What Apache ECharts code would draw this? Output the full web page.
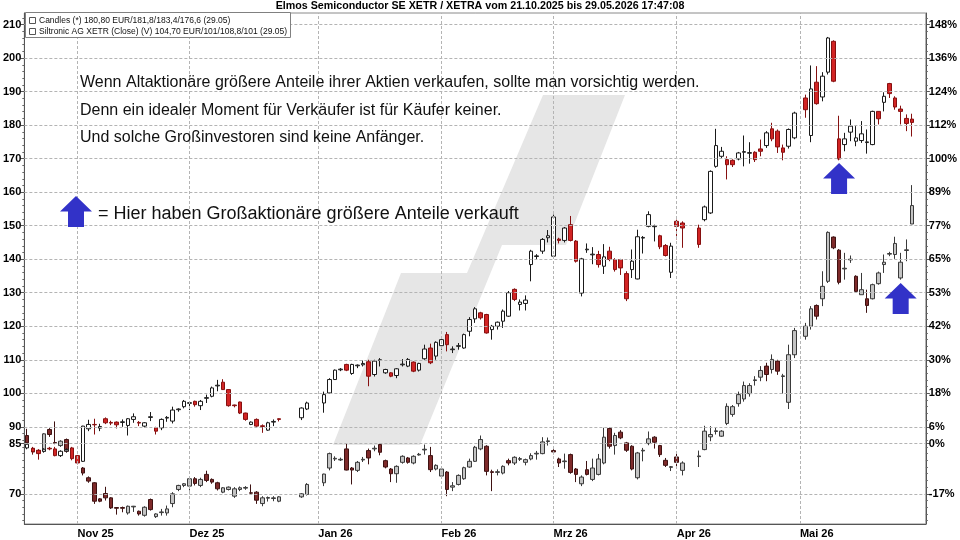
<!DOCTYPE html>
<html><head><meta charset="utf-8">
<script src="https://cdn.jsdelivr.net/npm/echarts@6/dist/echarts.min.js"></script>
<style>html,body{margin:0;padding:0;background:#fff}#c{width:960px;height:540px}</style>
</head><body><div id="c"></div>
<script>
// ---- categories: XETRA weekdays from 21.10.2025 (2 empty slots after 29.05.2026)
const startDate = [2025, 9, 21];
const categoryCount = 161;
const tradingDays = 159;
const monthNames = ['Jan','Feb','Mrz','Apr','Mai','Jun','Jul','Aug','Sep','Okt','Nov','Dez'];

// ---- left axis ticks and right (percent) labels
const leftTicks = [70,85,90,100,110,120,130,140,150,160,170,180,190,200,210];
const rightLabels = ['-17%','0%','6%','18%','30%','42%','53%','65%','77%','89%','100%','112%','124%','136%','148%'];

// ---- Elmos Semiconductor candles [open, close, low, high], null = no trading
const elmos = [
[83.7,84.8,83.3,85.2],[83.6,82.6,82.0,84.0],[83.0,82.0,80.2,83.3],[82.7,83.3,82.3,83.6],[83.6,83.4,83.0,84.0],
[83.4,81.4,81.2,84.0],[81.4,82.7,81.0,83.0],[82.8,83.2,82.4,83.6],[83.7,80.5,80.0,84.0],[81.4,79.2,78.8,81.6],
[79.7,90.2,79.5,90.3],[89.4,90.7,88.7,92.1],[90.7,90.6,87.7,92.4],[89.6,90.1,88.7,90.9],[92.4,91.2,90.8,92.8],
[91.3,91.1,90.5,91.8],[91.4,90.6,89.5,91.6],[91.3,91.5,90.0,92.2],[90.4,92.4,87.4,92.6],[92.2,93.0,91.2,94.0],
[91.3,91.1,90.2,91.7],[90.2,91.2,89.8,91.4],[92.8,93.0,91.7,94.4],[89.7,88.7,87.7,90.0],[89.7,92.2,89.0,92.5],
[92.6,92.8,91.5,93.2],[91.7,95.0,91.0,96.0],[95.1,95.3,94.5,95.5],[96.0,97.6,95.5,98.0],[97.0,97.2,95.0,97.6],
[97.6,96.6,96.0,97.8],[96.3,97.6,95.0,98.0],[98.5,98.7,97.1,99.6],[99.1,101.6,98.8,102.0],[102.2,102.4,100.6,104.0],
[103.3,101.1,101.0,104.2],[101.1,96.3,96.0,101.2],[96.5,96.3,95.8,96.6],[97.4,94.1,93.8,97.5],[94.1,92.2,91.8,94.2],
[90.7,91.4,90.5,91.6],[92.2,90.2,90.0,92.5],[90.3,90.1,88.2,90.7],[89.0,91.2,88.8,91.5],[91.4,91.6,90.2,92.2],
[92.4,92.2,91.6,92.5],null,null,null,[92.7,95.6,92.0,95.8],
[95.3,97.1,95.0,97.5],null,null,[97.1,99.6,94.2,100.5],[100.1,104.1,99.8,104.5],
[104.1,106.9,104.0,107.1],[107.0,107.2,106.6,107.5],[108.6,106.9,106.6,108.8],[105.9,108.6,105.5,108.8],[108.2,108.4,107.5,108.6],
[108.5,108.9,108.0,109.8],[109.4,105.1,102.1,110.0],[105.6,109.6,105.0,110.0],[109.8,110.0,108.0,110.5],[106.1,107.1,105.8,107.3],
[106.1,105.1,104.8,106.3],[105.3,107.3,104.5,107.5],[108.5,108.7,108.0,110.2],[108.1,110.1,107.8,110.5],[109.3,106.6,106.3,109.5],
[106.9,108.9,106.5,109.1],[110.3,113.2,110.0,114.5],[113.5,109.1,108.7,114.8],[111.1,115.2,110.0,115.5],[114.2,116.0,113.0,117.0],
[117.5,114.5,112.5,118.3],[113.0,113.2,112.0,114.0],[114.0,114.2,113.0,115.0],[113.5,117.5,113.3,117.8],[118.5,122.0,117.0,122.7],
[122.2,125.2,121.0,125.7],[124.0,122.5,122.0,124.3],[123.5,118.0,117.8,123.7],[119.0,120.0,116.0,120.4],[120.0,121.2,119.0,121.4],
[121.5,124.5,119.5,125.0],[123.0,130.0,122.8,130.5],[131.0,128.0,127.5,131.3],[126.5,127.2,124.7,128.0],[126.8,127.8,124.7,129.2],
[138.4,142.4,133.4,142.8],[140.8,141.0,140.0,141.5],[142.4,145.9,141.6,146.3],[146.4,147.0,145.0,148.7],[140.9,152.6,140.4,153.3],
[146.0,145.6,144.7,146.4],[145.6,149.3,145.0,149.6],[150.3,145.6,145.3,152.9],[145.4,139.4,139.0,145.7],[129.9,140.1,128.9,140.4],
[142.8,143.0,141.9,144.7],[141.3,141.5,138.5,143.6],[141.4,138.4,137.5,142.5],[137.9,140.7,135.6,144.5],[142.4,139.9,139.4,143.7],
[139.9,136.9,136.3,140.3],[139.9,137.4,135.3,140.1],[135.7,128.2,127.5,136.4],[136.9,139.4,134.4,142.9],[134.1,146.7,134.0,148.8],
[146.3,146.5,141.7,146.9],[149.8,153.3,149.5,154.3],[149.7,149.9,145.3,150.3],[147.0,143.7,143.0,147.3],[144.1,141.1,140.8,144.5],
[136.1,143.9,134.4,144.9],[151.3,149.8,145.9,151.8],[150.8,149.3,143.4,151.3],null,null,
[149.3,144.4,143.4,150.3],[151.8,155.6,151.3,156.0],[153.8,166.2,153.5,166.5],[167.7,173.9,167.3,178.9],[170.7,172.2,170.2,173.5],
[169.7,168.2,163.8,170.7],[169.5,168.2,167.5,169.8],[169.9,171.7,169.5,172.0],[171.9,172.1,167.7,176.9],[171.6,171.8,168.5,174.9],
[171.9,169.7,169.0,172.2],[172.9,172.2,170.7,175.7],[173.9,177.7,173.2,178.2],[178.9,175.9,175.2,180.7],[178.2,173.5,171.7,178.7],
[173.2,171.9,169.5,174.2],[173.7,178.7,173.0,179.0],[176.2,183.6,175.8,184.0],null,[188.1,184.6,182.2,189.1],
[176.9,190.8,174.9,197.8],[192.8,186.4,186.1,197.6],[188.4,194.6,187.1,195.8],[195.8,206.0,195.1,206.3],[205.0,193.1,192.8,205.3],
[175.9,169.9,169.5,182.8],[174.2,175.9,172.2,177.7],[177.9,179.7,175.2,181.7],[175.2,176.2,173.7,179.7],[175.4,177.4,174.7,181.2],
[174.8,175.0,171.5,178.7],[174.2,184.1,174.0,184.3],[184.1,181.9,180.2,184.2],[186.8,188.6,184.1,189.8],[192.4,189.4,188.1,192.6],
[188.1,185.4,184.6,188.6],[184.8,184.1,180.2,185.8],[182.0,180.5,178.2,183.2],[181.8,180.8,176.6,183.4]
];

// ---- Siltronic candles, drawn on the same (normalised) scale [open, close, low, high]
const siltronic = [
[87.4,85.2,84.1,89.4],[83.4,82.5,81.7,83.8],[82.9,82.3,81.8,83.2],[82.7,87.9,82.4,88.1],[89.2,87.7,87.0,89.6],
[85.3,85.1,84.8,91.6],[84.4,85.7,84.0,86.0],[86.2,82.7,82.3,86.5],[82.8,81.0,80.5,83.2],[81.0,79.7,79.3,81.3],
[77.7,76.2,75.5,78.0],[74.8,73.8,73.3,75.2],[73.3,67.8,67.0,73.5],[68.5,67.8,67.5,68.7],[70.1,68.8,68.0,72.1],
[68.8,65.8,65.5,69.0],[65.9,65.7,63.8,66.0],[65.9,65.7,64.5,66.2],[64.3,66.3,63.8,66.5],[66.1,66.3,64.6,66.4],
[64.8,64.0,63.5,65.0],[63.6,66.0,63.2,66.3],[68.3,65.3,65.0,68.6],[63.2,64.0,62.8,64.2],[64.4,64.6,63.5,65.5],
[64.3,65.5,63.5,66.5],[67.1,70.0,66.0,70.5],[71.3,72.5,70.8,72.7],[72.5,73.0,72.0,73.2],[72.3,74.5,71.0,75.3],
[74.5,73.1,72.5,75.0],[72.5,74.3,72.0,74.8],[75.8,74.0,73.5,76.9],[74.3,73.5,73.0,74.6],[73.3,71.5,71.0,73.6],
[70.5,71.8,70.2,72.0],[71.3,72.0,71.0,72.2],[69.3,71.5,68.8,72.0],[71.3,71.8,70.8,72.2],[71.7,71.9,71.2,72.3],
[70.3,70.2,69.8,72.8],[70.5,68.1,67.0,70.8],[67.1,68.8,66.3,69.3],[68.7,68.9,67.7,69.2],[68.6,68.8,67.8,69.3],
[67.8,69.1,67.5,69.3],null,null,null,[69.1,70.0,68.8,70.2],
[69.8,72.8,69.5,73.2],null,null,[73.3,75.9,72.3,76.0],[77.7,82.0,77.0,82.3],
[80.4,80.6,79.8,81.2],[80.1,80.3,79.8,80.8],[83.4,77.1,77.0,85.0],[77.7,77.1,72.8,78.0],[77.0,79.4,76.5,79.8],
[80.1,80.3,79.5,81.0],[82.9,80.7,78.8,83.5],[83.4,83.6,82.7,84.4],[84.7,82.4,81.5,84.9],[79.9,78.0,77.6,80.2],
[77.4,76.0,73.5,77.7],[76.0,78.2,73.3,78.5],[79.4,81.2,79.0,81.5],[80.7,79.4,79.0,81.0],[79.2,81.2,78.8,81.5],
[81.6,81.8,81.4,82.2],[83.1,83.3,81.7,84.7],[81.4,77.2,76.5,84.0],[77.4,78.5,77.0,78.8],[75.3,77.4,75.0,77.6],
[76.5,71.3,69.3,76.8],[72.0,72.4,70.8,73.5],[72.8,75.5,72.5,75.8],[74.5,77.8,74.2,78.1],[78.0,79.7,77.8,80.5],
[79.7,83.9,79.5,84.3],[83.4,86.2,83.0,87.4],[84.2,76.7,75.5,84.5],[76.6,76.4,70.8,77.2],[76.4,76.6,75.5,77.3],
[76.2,78.2,75.8,78.5],[79.9,79.2,78.5,80.5],[79.2,80.9,78.6,81.2],[80.3,80.5,79.8,81.0],[79.4,80.2,78.5,80.5],
[80.4,81.4,80.0,82.1],[81.9,82.1,80.2,82.8],[82.0,85.5,81.8,86.9],[85.6,85.8,84.4,86.8],[82.9,82.5,81.8,83.3],
[80.4,79.2,78.0,80.8],[79.6,79.8,77.5,82.0],[81.7,76.4,76.0,82.0],[77.4,75.8,73.5,77.7],[73.0,75.0,72.3,75.5],
[77.2,75.8,75.5,79.8],[74.3,77.7,73.8,80.5],[75.8,80.4,75.5,81.9],[79.2,86.9,78.8,89.7],[89.5,84.2,83.5,89.8],
[84.4,87.4,81.7,88.2],[88.4,86.7,86.3,89.0],[85.2,83.0,82.5,85.5],[84.2,77.4,77.0,84.5],[74.8,82.2,74.3,82.5],
[82.8,83.0,79.7,83.7],[85.0,86.4,84.5,88.6],[86.9,85.4,83.5,87.2],[84.4,81.7,81.0,84.6],[80.0,78.5,78.0,80.7],
[77.9,78.1,76.8,78.3],[81.0,79.4,77.5,82.6],[77.0,79.2,75.5,79.7],null,null,
[81.1,81.3,78.0,82.9],[83.2,88.7,83.0,90.3],[87.0,87.7,85.7,90.2],[88.6,88.8,87.7,89.7],[87.2,88.7,87.0,89.0],
[91.0,96.1,90.5,97.0],[93.7,96.0,93.0,96.5],[96.9,99.6,96.0,100.5],[98.3,102.3,97.5,103.5],[99.9,102.3,99.0,103.0],
[103.8,104.0,102.3,105.1],[104.8,106.8,103.6,108.1],[108.1,105.6,103.6,109.1],[107.1,110.1,105.9,111.6],[109.6,106.6,105.5,110.0],
[105.0,105.2,99.9,105.8],[97.3,111.5,95.3,114.5],[111.5,118.7,110.5,119.5],null,[117.0,120.0,116.0,121.0],
[120.0,125.2,119.0,126.0],[126.2,123.0,122.0,126.5],[128.2,131.9,126.0,136.4],[133.4,148.0,132.9,148.3],[146.6,143.4,143.0,146.8],
[142.7,133.1,132.5,143.0],[137.1,137.3,133.9,141.9],[139.8,140.0,138.9,141.1],[134.9,130.4,130.0,135.2],[129.4,130.9,129.4,135.9],
[128.2,126.2,124.0,130.9],[128.2,132.4,128.0,132.7],[132.7,135.9,132.4,136.3],[138.4,139.1,135.9,141.4],[141.5,141.7,140.9,142.2],
[141.4,144.7,140.1,146.7],[134.4,139.1,133.9,141.9],[142.6,142.8,139.4,145.9],[150.5,156.0,150.5,162.1]
];

// ---- annotation arrows: [category index, value] of the tip
const arrowTips = [[145, 168.7], [156, 132.9]];

const textLines = [
  'Wenn Altaktionäre größere Anteile ihrer Aktien verkaufen, sollte man vorsichtig werden.',
  'Denn ein idealer Moment für Verkäufer ist für Käufer keiner.',
  'Und solche Großinvestoren sind keine Anfänger.'
];
const arrowLegendText = '= Hier haben Großaktionäre größere Anteile verkauft';
const titleText = 'Elmos Semiconductor SE XETR / XETRA vom 21.10.2025 bis 29.05.2026 17:47:08';
const legendLines = [
  'Candles (*) 180,80 EUR/181,8/183,4/176,6 (29.05)',
  'Siltronic AG XETR (Close) (V) 104,70 EUR/101/108,8/101 (29.05)'
];

// ---------- build ----------
const categories = [];
{
  const d = new Date(Date.UTC(startDate[0], startDate[1], startDate[2]));
  while (categories.length < categoryCount) {
    const wd = d.getUTCDay();
    if (wd !== 0 && wd !== 6) categories.push(d.toISOString().slice(0, 10));
    d.setUTCDate(d.getUTCDate() + 1);
  }
}
const isMonthStart = (i) => i > 0 && i < tradingDays && categories[i].slice(5, 7) !== categories[i - 1].slice(5, 7);
const monthStarts = categories.map((c, i) => i).filter(isMonthStart);
const EMPTY = ['-', '-', '-', '-'];
const pad = (arr) => arr.map(r => r ? r : EMPTY).concat(Array(categoryCount - arr.length).fill(EMPTY));
const Y_MIN = 61, Y_MAX = 213.45;
const minorTicks = [];
for (let v = 62; v <= 212; v += 2) if (leftTicks.indexOf(v) < 0) minorTicks.push(v);

const FONT = "'Liberation Sans', Arial, sans-serif";
const gridColor = '#b4b4b4';
const labelStyle = {fontFamily: FONT, fontSize: 11, fontWeight: 'bold', color: '#000'};
const minorAxis = (pos) => ({
  type: 'value', min: Y_MIN, max: Y_MAX, position: pos, scale: true,
  axisLine: {show: false},
  axisTick: {show: true, customValues: minorTicks, length: 2, lineStyle: {color: '#666'}},
  axisLabel: {show: false, customValues: minorTicks},
  splitLine: {show: false}
});

const chart = echarts.init(document.getElementById('c'), null, {renderer: 'canvas'});
const option = {
  animation: false,
  backgroundColor: '#ffffff',
  title: {
    text: titleText, left: 'center', top: 1, padding: 0,
    textStyle: {fontFamily: FONT, fontSize: 10.7, fontWeight: 'bold', color: '#000'}
  },
  grid: {left: 23, right: 34, top: 13, bottom: 16, show: true, borderColor: '#8a8a8a', borderWidth: 1},
  xAxis: {
    type: 'category', data: categories, boundaryGap: true,
    axisLine: {lineStyle: {color: '#555'}},
    axisTick: {alignWithLabel: true, interval: (i) => isMonthStart(i), length: 4, lineStyle: {color: '#555'}},
    axisLabel: Object.assign({
      interval: (i) => isMonthStart(i), align: 'left', margin: 4,
      formatter: (v) => monthNames[parseInt(v.slice(5, 7), 10) - 1] + ' ' + v.slice(2, 4)
    }, labelStyle),
    splitLine: {show: false}
  },
  yAxis: [{
    type: 'value', min: Y_MIN, max: Y_MAX, position: 'left', scale: true,
    axisLine: {show: true, lineStyle: {color: '#555'}},
    axisTick: {show: true, customValues: leftTicks, length: 4, lineStyle: {color: '#555'}},
    axisLabel: Object.assign({customValues: leftTicks, margin: 3}, labelStyle),
    splitLine: {show: false}
  }, {
    type: 'value', min: Y_MIN, max: Y_MAX, position: 'right', scale: true,
    axisLine: {show: true, lineStyle: {color: '#555'}},
    axisTick: {show: true, customValues: leftTicks, length: 4, lineStyle: {color: '#555'}},
    axisLabel: Object.assign({
      customValues: leftTicks, margin: 3,
      formatter: (v) => { const k = leftTicks.indexOf(Math.round(v)); return k >= 0 ? rightLabels[k] : ''; }
    }, labelStyle),
    splitLine: {show: false}
  }, minorAxis('left'), minorAxis('right')],
  series: [{
    type: 'line', data: [], z: 1, silent: true,
    markLine: {
      silent: true, symbol: ['none', 'none'], label: {show: false},
      lineStyle: {color: gridColor, type: [3, 2], width: 1},
      data: leftTicks.map(v => ({yAxis: v})).concat(monthStarts.map(i => ({xAxis: categories[i]})))
    }
  }, {
    type: 'candlestick', name: 'Siltronic', data: pad(siltronic), barWidth: 4, z: 3,
    itemStyle: {color: '#c4c4c4', color0: '#7e2a2a', borderColor: '#3a3a3a', borderColor0: '#3e1212', borderWidth: 1}
  }, {
    type: 'candlestick', name: 'Elmos', data: pad(elmos), barWidth: 4, z: 4,
    itemStyle: {color: '#ffffff', color0: '#d22424', borderColor: '#1a1a1a', borderColor0: '#861010', borderWidth: 1}
  }]
};
chart.setOption(option);

const arrowPts = (tx, ty) => [[tx, ty], [tx + 16, ty + 15.5], [tx + 8, ty + 15.5], [tx + 8, ty + 31],
  [tx - 8, ty + 31], [tx - 8, ty + 15.5], [tx - 16, ty + 15.5]];
const BLUE = '#3232c8';
const textEl = (txt, x, y, size) => ({type: 'text', z: 20, silent: true,
  style: {text: txt, x: x, y: y, font: size + 'px ' + FONT, fill: '#111', textVerticalAlign: 'middle', verticalAlign: 'middle'}});
const graphics = [
  {type: 'polygon', z: 0, silent: true,
   shape: {points: [[333,445],[401,273],[467,273],[543,95],[625,95],[566,245],[502,245],[420,445]]},
   style: {fill: '#e6e6e6'}},
  {type: 'rect', z: 20, shape: {x: 25.5, y: 12.5, width: 265, height: 25}, style: {fill: '#fff', stroke: '#808080', lineWidth: 1}},
  {type: 'rect', z: 21, shape: {x: 29.5, y: 17.5, width: 6, height: 6}, style: {fill: '#fff', stroke: '#555', lineWidth: 1}},
  {type: 'rect', z: 21, shape: {x: 29.5, y: 28.5, width: 6, height: 6}, style: {fill: '#fff', stroke: '#555', lineWidth: 1}},
  Object.assign(textEl(legendLines[0], 39, 20.5, 8.5), {z: 21}),
  Object.assign(textEl(legendLines[1], 39, 31.5, 8.5), {z: 21}),
  textEl(textLines[0], 80, 83, 16),
  textEl(textLines[1], 80, 110.5, 16),
  textEl(textLines[2], 80, 138, 16),
  textEl(arrowLegendText, 98, 214.5, 18),
  {type: 'polygon', z: 20, shape: {points: arrowPts(76, 196)}, style: {fill: BLUE}}
];
arrowTips.forEach(t => {
  const p = chart.convertToPixel({xAxisIndex: 0, yAxisIndex: 0}, [categories[t[0]], t[1]]);
  graphics.push({type: 'polygon', z: 20, shape: {points: arrowPts(p[0], p[1])}, style: {fill: BLUE}});
});
chart.setOption({graphic: graphics});
</script>
</body></html>
